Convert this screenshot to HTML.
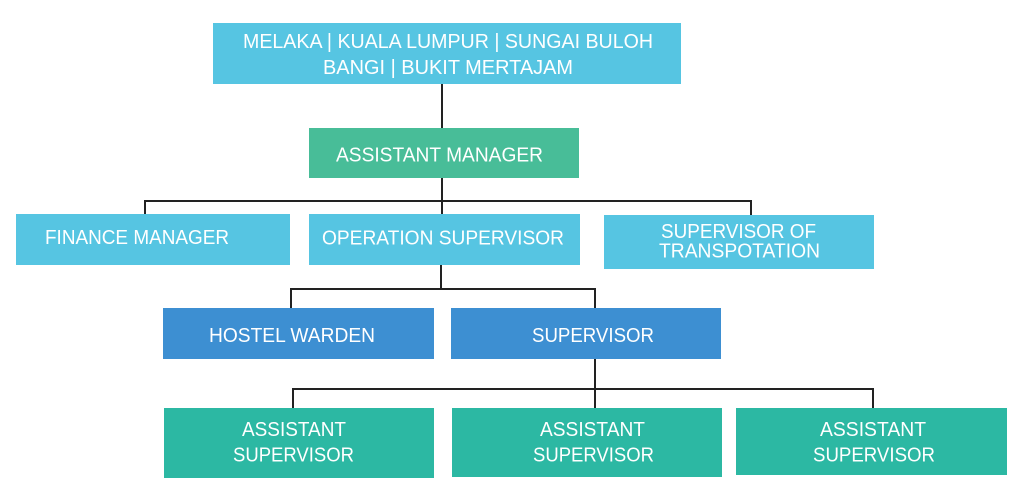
<!DOCTYPE html>
<html>
<head>
<meta charset="utf-8">
<style>
  html, body { margin: 0; padding: 0; background: #ffffff; }
  body { width: 1024px; height: 500px; overflow: hidden; }
  svg { display: block; }
  text { font-family: "Liberation Sans", "DejaVu Sans", sans-serif; font-size: 20.5px; fill: #ffffff; }
</style>
</head>
<body>
<svg width="1024" height="500" viewBox="0 0 1024 500" xmlns="http://www.w3.org/2000/svg">
  <!-- connectors -->
  <g stroke="#222222" stroke-width="2" fill="none">
    <line x1="442" y1="84" x2="442" y2="128"/>
    <line x1="442" y1="178" x2="442" y2="201"/>
    <polyline points="145,214 145,201 751,201 751,215"/>
    <line x1="442" y1="201" x2="442" y2="214"/>
    <line x1="441" y1="265" x2="441" y2="289"/>
    <polyline points="291,308 291,289 595,289 595,308"/>
    <line x1="595" y1="359" x2="595" y2="389"/>
    <polyline points="293,408 293,389 873,389 873,408"/>
    <line x1="595" y1="389" x2="595" y2="408"/>
  </g>

  <!-- boxes -->
  <rect x="213" y="23" width="468" height="61" fill="#56C5E2"/>
  <rect x="309" y="128" width="270" height="50" fill="#48BD98"/>
  <rect x="16" y="214" width="274" height="51" fill="#56C5E2"/>
  <rect x="309" y="214" width="271" height="51" fill="#56C5E2"/>
  <rect x="604" y="215" width="270" height="54" fill="#56C5E2"/>
  <rect x="163" y="308" width="271" height="51" fill="#3D8FD2"/>
  <rect x="451" y="308" width="270" height="51" fill="#3D8FD2"/>
  <rect x="164" y="408" width="270" height="70" fill="#2CB8A3"/>
  <rect x="452" y="408" width="270" height="69" fill="#2CB8A3"/>
  <rect x="736" y="408" width="271" height="67" fill="#2CB8A3"/>

  <!-- labels -->
  <text x="243" y="48" textLength="410" lengthAdjust="spacingAndGlyphs">MELAKA | KUALA LUMPUR | SUNGAI BULOH</text>
  <text x="323" y="74" textLength="250" lengthAdjust="spacingAndGlyphs">BANGI | BUKIT MERTAJAM</text>
  <text x="336" y="161.5" textLength="207" lengthAdjust="spacingAndGlyphs">ASSISTANT MANAGER</text>
  <text x="45" y="244" textLength="184" lengthAdjust="spacingAndGlyphs">FINANCE MANAGER</text>
  <text x="322" y="244.5" textLength="242" lengthAdjust="spacingAndGlyphs">OPERATION SUPERVISOR</text>
  <text x="661" y="238" textLength="155" lengthAdjust="spacingAndGlyphs">SUPERVISOR OF</text>
  <text x="659" y="257.5" textLength="161" lengthAdjust="spacingAndGlyphs">TRANSPOTATION</text>
  <text x="209" y="342" textLength="166" lengthAdjust="spacingAndGlyphs">HOSTEL WARDEN</text>
  <text x="532" y="342" textLength="122" lengthAdjust="spacingAndGlyphs">SUPERVISOR</text>

  <text x="242" y="436" textLength="104" lengthAdjust="spacingAndGlyphs">ASSISTANT</text>
  <text x="233" y="461.5" textLength="121" lengthAdjust="spacingAndGlyphs">SUPERVISOR</text>
  <text x="540" y="436" textLength="105" lengthAdjust="spacingAndGlyphs">ASSISTANT</text>
  <text x="533" y="461.5" textLength="121" lengthAdjust="spacingAndGlyphs">SUPERVISOR</text>
  <text x="820" y="436" textLength="106" lengthAdjust="spacingAndGlyphs">ASSISTANT</text>
  <text x="813" y="461.5" textLength="122" lengthAdjust="spacingAndGlyphs">SUPERVISOR</text>
</svg>
</body>
</html>
